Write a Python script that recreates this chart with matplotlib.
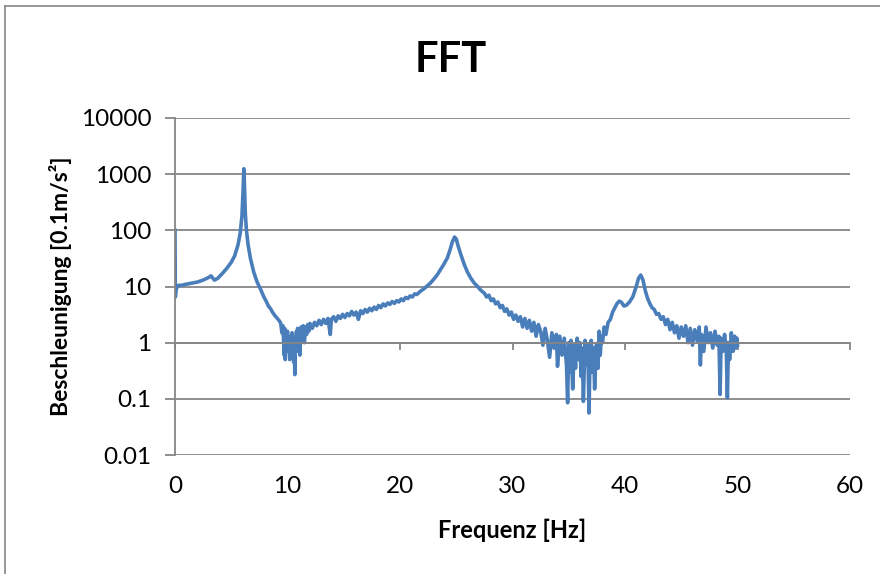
import numpy as np
import matplotlib
matplotlib.use("Agg")
import matplotlib.pyplot as plt
from matplotlib.lines import Line2D

plt.rcParams['font.family'] = ['Lato', 'DejaVu Sans']

# Frequenz [Hz] / Beschleunigung [0.1 m/s^2]
freq = [
    0.0, 0.03, 0.1, 0.3, 0.6, 1.0, 1.5, 2.0, 2.5, 3.0, 3.2, 3.5, 3.8, 4.2, 4.6,
    5.0, 5.3, 5.6, 5.8, 5.95, 6.05, 6.12, 6.18, 6.25, 6.35, 6.5, 6.7, 7.0, 7.3,
    7.6, 7.9, 8.1, 8.3, 8.5, 8.7, 8.9, 9.1, 9.3,
    9.4, 9.5, 9.6, 9.7, 9.75, 9.8, 9.85, 9.9, 10.0, 10.05, 10.1, 10.2, 10.25,
    10.3, 10.4, 10.45, 10.5, 10.55, 10.6, 10.65, 10.7, 10.8, 10.85, 10.9, 11.0,
    11.05, 11.1, 11.2, 11.3, 11.4, 11.5, 11.6, 11.7, 11.8, 11.9, 12.0, 12.2,
    12.4, 12.6, 12.8, 13.0, 13.2, 13.4, 13.6, 13.8, 13.9, 14.1, 14.3, 14.5,
    14.7, 14.9, 15.1, 15.3, 15.5, 15.7, 15.9, 16.1, 16.3, 16.5, 16.7, 16.9,
    17.1, 17.3, 17.5, 17.7, 17.9, 18.1, 18.3, 18.5, 18.7, 18.9, 19.1, 19.3,
    19.5, 19.7, 19.9, 20.1, 20.3, 20.5, 20.7, 20.9, 21.1, 21.3, 21.5, 21.8,
    22.1, 22.4, 22.7, 23.0, 23.3, 23.6, 23.9, 24.2, 24.45, 24.65, 24.85, 25.0,
    25.2, 25.45, 25.7, 26.0, 26.3, 26.6, 26.9, 27.2, 27.5, 27.7, 27.9, 28.1,
    28.3, 28.5, 28.7, 28.9, 29.1, 29.3, 29.5, 29.7, 29.9, 30.1, 30.3, 30.5,
    30.7, 30.9, 31.1, 31.3, 31.5, 31.7, 31.9, 32.1, 32.3, 32.5, 32.7, 32.9,
    33.1, 33.3, 33.5, 33.7, 33.9, 34.0, 34.2, 34.4, 34.6, 34.8, 34.9, 35.0,
    35.1, 35.2, 35.35, 35.5, 35.6, 35.75, 35.9, 36.0, 36.1, 36.2, 36.3, 36.45,
    36.55, 36.7, 36.8, 36.9, 37.0, 37.1, 37.2, 37.3, 37.45, 37.6, 37.7, 37.8,
    37.9, 38.0, 38.15, 38.3, 38.5, 38.7, 38.9, 39.1, 39.3, 39.5, 39.7, 39.9,
    40.1, 40.4, 40.7, 41.0, 41.2, 41.4, 41.6, 41.8, 42.0, 42.2, 42.4, 42.6,
    42.8, 43.0, 43.2, 43.4, 43.6, 43.8, 44.0, 44.2, 44.4, 44.6, 44.8, 45.0,
    45.2, 45.4, 45.6, 45.8, 46.0, 46.2, 46.4, 46.6, 46.7, 46.8, 47.0, 47.2,
    47.4, 47.6, 47.8, 48.0, 48.2, 48.35, 48.45, 48.55, 48.7, 48.85, 49.0, 49.1,
    49.2, 49.3, 49.45, 49.6, 49.75, 49.85, 49.95, 50.0,
]
accel = [
    100, 6.5, 9, 10.5, 10.5, 11, 11.5, 12, 13, 14.5, 15.5, 13, 14, 17, 21,
    27, 35, 55, 90, 180, 500, 1250, 600, 200, 100, 55, 32, 18, 12,
    9, 6.5, 5.5, 4.5, 4.0, 3.4, 3.0, 2.7, 2.4,
    2.2, 1.5, 2.0, 0.6, 1.8, 0.5, 1.5, 0.9, 1.6, 0.7, 1.3, 0.5, 1.0,
    0.6, 1.5, 0.8, 1.2, 0.45, 1.1, 0.27, 0.9, 1.6, 0.7, 1.8, 0.8,
    1.4, 0.6, 1.9, 1.2, 2.0, 1.0, 1.9, 1.4, 2.1, 1.6, 2.2, 1.8,
    2.3, 2.0, 2.5, 2.1, 2.6, 2.2, 2.7, 1.4, 2.6, 2.9, 2.4, 3.0,
    2.7, 3.2, 2.8, 3.3, 3.0, 3.6, 3.1, 3.5, 2.6, 3.7, 3.3, 3.9,
    3.5, 4.1, 3.7, 4.3, 3.9, 4.6, 4.2, 4.9, 4.5, 5.1, 4.8, 5.4,
    5.0, 5.6, 5.3, 6.0, 5.6, 6.4, 6.1, 6.8, 6.5, 7.4, 7.2, 8.2,
    9.0, 10.2, 11.5, 13.5, 16, 20, 25, 32, 45, 62, 76, 70,
    50, 35, 25, 18, 14, 11.5, 10, 8.5, 7.6, 6.5, 7.0, 5.6,
    6.0, 4.9, 5.3, 4.2, 4.6, 3.6, 4.0, 3.1, 3.5, 2.6, 3.1, 2.4,
    2.9, 1.9, 2.7, 1.8, 2.5, 1.6, 2.3, 1.3, 2.1, 1.6, 0.9, 1.8,
    1.1, 0.55, 1.5, 0.8, 1.4, 0.38, 1.3, 0.6, 1.2, 0.4, 0.085, 1.0,
    0.3, 1.1, 0.15, 0.9, 0.35, 1.2, 0.5, 1.0, 0.25, 0.8, 0.09, 1.1,
    0.4, 0.9, 0.056, 0.7, 1.1, 0.3, 0.8, 0.15, 0.9, 0.35, 1.6, 0.6,
    1.3, 1.0, 1.9, 1.4, 2.3, 2.6, 3.5, 4.2, 5.0, 5.5, 5.2, 4.5,
    4.6, 5.3, 6.6, 10, 14, 16, 13, 8.5, 6.2, 5.0, 4.2, 3.9,
    3.2, 3.3, 2.6, 2.9, 2.1, 2.6, 1.7, 2.3, 1.5, 2.0, 1.2, 1.9,
    1.3, 2.0, 1.0, 1.8, 0.9, 1.7, 1.1, 1.9, 0.4, 1.4, 0.7, 1.9,
    1.0, 1.5, 0.8, 1.6, 0.9, 1.3, 0.12, 1.2, 0.7, 1.4, 0.8, 0.105,
    1.0, 0.5, 1.5, 0.7, 1.3, 0.8, 1.2, 0.9,
]

xticks = [0, 10, 20, 30, 40, 50, 60]
yticks = [0.01, 0.1, 1, 10, 100, 1000, 10000]
ytick_labels = ["0.01", "0.1", "1", "10", "100", "1000", "10000"]

grey = "#868686"
blue = "#4A7EBB"

fig = plt.figure(figsize=(8.8, 5.74), dpi=100)
ax = fig.add_axes([175 / 880, 1 - 455 / 574, 675 / 880, 337 / 574])

ax.plot(freq, accel, color=blue, lw=2.6, solid_joinstyle="round")

ax.set_yscale("log")
ax.set_xlim(0, 60)
ax.set_ylim(0.01, 10000)
ax.set_yticks(yticks)
ax.set_yticklabels(ytick_labels)
ax.minorticks_off()
ax.set_xticks(xticks)

for v in yticks:
    ax.axhline(v, color=grey, lw=1.3, zorder=0)

for s in ["top", "right"]:
    ax.spines[s].set_visible(False)
ax.spines["left"].set_color(grey)
ax.spines["left"].set_linewidth(1.3)
ax.spines["bottom"].set_position(("data", 1))
ax.spines["bottom"].set_color(grey)
ax.spines["bottom"].set_linewidth(1.3)

ax.tick_params(axis="y", direction="out", length=7, width=1.3, color=grey,
               labelsize=17.5, pad=10)
ax.tick_params(axis="x", direction="out", length=5, width=1.3, color=grey,
               labelsize=17.5, pad=91)

fig.text(0.5125 - 0.0, 1 - 72 / 574, "FFT", ha="center", va="baseline",
         fontsize=30, fontweight="bold")
fig.text(512.5 / 880, 1 - 538 / 574, "Frequenz [Hz]", ha="center",
         va="baseline", fontsize=17, fontweight="bold")
fig.text(61 / 880, 0.5017, "Beschleunigung [0.1m/s²]", ha="center",
         va="center", rotation=90, fontsize=16.5, fontweight="bold")

# outer chart frame (left and top edges visible)
fig.add_artist(Line2D([5 / 880, 5 / 880], [0, 1 - 6 / 574], color=grey, lw=1.2))
fig.add_artist(Line2D([5 / 880, 1], [1 - 6 / 574, 1 - 6 / 574], color=grey, lw=1.2))

fig.savefig("out.png", dpi=100)
